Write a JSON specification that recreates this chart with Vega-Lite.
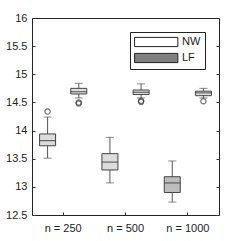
{
  "$schema": "https://vega.github.io/schema/vega-lite/v6.json",
  "width": 187,
  "height": 197,
  "autosize": "none",
  "padding": {"left": 32, "top": 18, "right": 23, "bottom": 26},
  "background": "white",
  "config": {
    "view": {"stroke": "#222", "strokeWidth": 1},
    "axis": {"labelFont": "Liberation Sans", "labelFontSize": 11, "labelColor": "#222", "grid": false, "domain": false, "tickColor": "#333", "labelOverlap": false},
    "axisY": {"labelOverlap": false, "values": [12.5, 13, 13.5, 14, 14.5, 15, 15.5, 16], "labelExpr": "toString(datum.value)", "tickSize": -3, "labelPadding": 8, "labelFlush": false, "title": null},
    "axisQuantitative": {"labelOverlap": false},
    "legend": {"labelFont": "Liberation Sans", "labelFontSize": 11, "labelColor": "#222"}
  },
  "resolve": {"axis": {"y": "independent"}},
  "datasets": {
    "stats": [
      {"n": "n = 250", "method": "LF", "lower": 13.51, "q1": 13.73, "median": 13.82, "q3": 13.94, "upper": 14.24},
      {"n": "n = 250", "method": "NW", "lower": 14.58, "q1": 14.65, "median": 14.69, "q3": 14.75, "upper": 14.84},
      {"n": "n = 500", "method": "LF", "lower": 13.07, "q1": 13.30, "median": 13.44, "q3": 13.59, "upper": 13.88},
      {"n": "n = 500", "method": "NW", "lower": 14.58, "q1": 14.64, "median": 14.68, "q3": 14.72, "upper": 14.83},
      {"n": "n = 1000", "method": "LF", "lower": 12.73, "q1": 12.90, "median": 13.07, "q3": 13.18, "upper": 13.46},
      {"n": "n = 1000", "method": "NW", "lower": 14.58, "q1": 14.62, "median": 14.67, "q3": 14.70, "upper": 14.75}
    ],
    "outliers": [
      {"n": "n = 250", "method": "LF", "value": 14.34},
      {"n": "n = 250", "method": "NW", "value": 14.48},
      {"n": "n = 250", "method": "NW", "value": 14.50},
      {"n": "n = 500", "method": "NW", "value": 14.51},
      {"n": "n = 500", "method": "NW", "value": 14.53},
      {"n": "n = 1000", "method": "NW", "value": 14.52}
    ]
  },
  "encoding": {
    "x": {"field": "n", "type": "nominal", "sort": ["n = 250", "n = 500", "n = 1000"],
      "scale": {"paddingInner": 0, "paddingOuter": 0},
      "axis": {"title": null, "labelAngle": 0, "tickSize": -3, "labelPadding": 10, "tickBand": "center"}},
    "xOffset": {"field": "method", "type": "nominal", "scale": {"domain": ["LF", "NW"]}}
  },
  "layer": [
    {
      "data": {"name": "stats"},
      "mark": {"type": "rule", "stroke": "#555", "strokeWidth": 1},
      "encoding": {
        "y": {"field": "lower", "type": "quantitative", "scale": {"domain": [12.5, 16], "nice": false, "zero": false}, "title": null},
        "y2": {"field": "upper"}
      }
    },
    {
      "data": {"name": "stats"},
      "mark": {"type": "rule", "opacity": 0},
      "encoding": {
        "y": {"field": "lower", "type": "quantitative", "title": null, "axis": {"orient": "right", "labels": false}},
        "y2": {"field": "upper"}
      }
    },
    {
      "data": {"name": "stats"},
      "mark": {"type": "tick", "size": 8, "thickness": 1, "color": "#555", "orient": "horizontal"},
      "encoding": {"y": {"field": "lower", "type": "quantitative", "axis": null}}
    },
    {
      "data": {"name": "stats"},
      "mark": {"type": "tick", "size": 8, "thickness": 1, "color": "#555", "orient": "horizontal"},
      "encoding": {"y": {"field": "upper", "type": "quantitative", "axis": null}}
    },
    {
      "data": {"name": "stats"},
      "mark": {"type": "bar", "width": 16, "stroke": "#444", "strokeWidth": 1},
      "encoding": {
        "y": {"field": "q1", "type": "quantitative", "axis": null},
        "y2": {"field": "q3"},
        "fill": {"condition": {"test": "datum.n === 'n = 1000' && datum.method === 'LF'", "value": "#bcbcbc"}, "value": "#dcdcdc"}
      }
    },
    {
      "data": {"name": "stats"},
      "mark": {"type": "tick", "size": 16, "thickness": 1.2, "color": "#333", "orient": "horizontal"},
      "encoding": {"y": {"field": "median", "type": "quantitative", "axis": null}}
    },
    {
      "data": {"name": "outliers"},
      "mark": {"type": "point", "shape": "circle", "filled": false, "size": 28, "stroke": "#333", "strokeWidth": 1.2},
      "encoding": {"y": {"field": "value", "type": "quantitative", "axis": null}}
    },
    {
      "data": {"name": "stats"},
      "mark": {"type": "point", "opacity": 0},
      "encoding": {
        "y": {"field": "median", "type": "quantitative", "axis": null},
        "fill": {"field": "method", "type": "nominal", "scale": {"domain": ["NW", "LF"], "range": ["#ffffff", "#808080"]},
          "legend": {"title": null, "orient": "none", "legendX": 98, "legendY": 14, "symbolType": "M-1,-0.85H7V0.85H-1Z", "symbolSize": 117, "symbolOpacity": 1, "symbolStrokeColor": "#222", "symbolStrokeWidth": 1, "strokeColor": "#222", "fillColor": "white", "padding": 4, "rowPadding": 2, "labelOffset": 36, "cornerRadius": 0}}
      }
    }
  ]
}
